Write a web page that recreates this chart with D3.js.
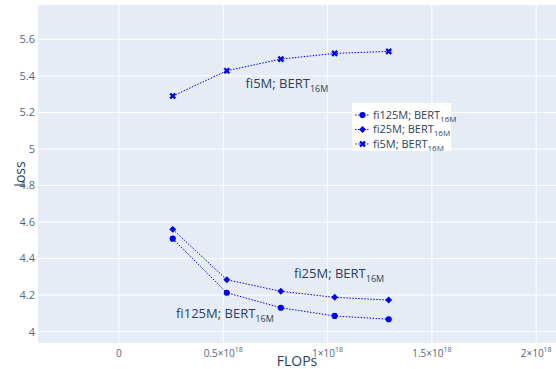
<!DOCTYPE html>
<html>
<head>
<meta charset="utf-8">
<script src="https://cdn.jsdelivr.net/npm/d3@7"></script>
<style>
  body { margin: 0; background: #fff; }
  svg { display: block; font-family: "Open Sans", "Noto Sans", sans-serif; }
</style>
</head>
<body>
<div id="chart"></div>
<script>
// FLOPs (x) and loss per series
const flops = [0.258e18, 0.517e18, 0.776e18, 1.034e18, 1.293e18];
const loss125M = [4.509, 4.213, 4.131, 4.086, 4.068];
const loss25M = [4.560, 4.284, 4.221, 4.188, 4.173];
const loss5M = [5.290, 5.428, 5.492, 5.523, 5.534];

const seriesNames = ["fi125M", "fi25M", "fi5M"];
const xTicks = [0, 0.5e18, 1e18, 1.5e18, 2e18];
const xTickLabels = [["0", ""], ["0.5×10", "18"], ["1×10", "18"], ["1.5×10", "18"], ["2×10", "18"]];
const yTicks = [4, 4.2, 4.4, 4.6, 4.8, 5, 5.2, 5.4, 5.6];

const W = 556, H = 369;
const margin = { top: 5, right: 0, bottom: 26, left: 38 };

const svg = d3.select("#chart").append("svg")
    .attr("width", W)
    .attr("height", H);

const x = d3.scaleLinear().domain([-0.388e18, 2.095e18]).range([margin.left, W - margin.right]);
const y = d3.scaleLinear().domain([3.938, 5.788]).range([H - margin.bottom, margin.top]);

const textCol = "#2a3f5f";
const tickCol = "#506784";
const blue = "#0000ff";

// plot background
svg.append("rect")
    .attr("x", margin.left)
    .attr("y", margin.top)
    .attr("width", W - margin.right - margin.left)
    .attr("height", H - margin.bottom - margin.top)
    .attr("fill", "#e5ecf6");

// grid
svg.append("g").selectAll("line").data(xTicks).join("line")
    .attr("x1", d => x(d)).attr("x2", d => x(d))
    .attr("y1", margin.top).attr("y2", H - margin.bottom)
    .attr("stroke", "#fff").attr("stroke-width", 1);
svg.append("g").selectAll("line").data(yTicks).join("line")
    .attr("x1", margin.left).attr("x2", W - margin.right)
    .attr("y1", d => y(d)).attr("y2", d => y(d))
    .attr("stroke", "#fff").attr("stroke-width", 1);

// tick labels
const xl = svg.append("g").selectAll("text").data(xTicks).join("text")
    .attr("x", d => x(d))
    .attr("y", H - margin.bottom + 14)
    .attr("text-anchor", "middle")
    .attr("fill", tickCol)
    .style("font-size", "10px");
xl.each(function(d, i) {
    const t = d3.select(this);
    t.append("tspan").text(xTickLabels[i][0]);
    if (xTickLabels[i][1]) {
        t.append("tspan").attr("dy", -5).style("font-size", "7px").text(xTickLabels[i][1]);
    }
});

svg.append("g").selectAll("text").data(yTicks).join("text")
    .attr("x", margin.left - 3)
    .attr("y", d => y(d))
    .attr("dy", "0.35em")
    .attr("text-anchor", "end")
    .attr("fill", tickCol)
    .style("font-size", "11px")
    .text(d => d3.format("")(+d.toFixed(1)));

// axis titles
svg.append("text")
    .attr("x", (margin.left + W - margin.right) / 2)
    .attr("y", H - 3)
    .attr("text-anchor", "middle")
    .attr("fill", textCol)
    .style("font-size", "14px")
    .text("FLOPs");
svg.append("text")
    .attr("transform", `translate(25,${(margin.top + H - margin.bottom) / 2}) rotate(-90)`)
    .attr("text-anchor", "middle")
    .attr("fill", textCol)
    .style("font-size", "14px")
    .text("loss");

// series
const series = [
    { name: seriesNames[0], values: loss125M, symbol: d3.symbolCircle, size: 30, rot: 0 },
    { name: seriesNames[1], values: loss25M, symbol: d3.symbolSquare, size: 24, rot: 45 },
    { name: seriesNames[2], values: loss5M, symbol: d3.symbolCross, size: 28, rot: 45 }
];

const line = d3.line().x(d => x(d[0])).y(d => y(d[1]));

series.forEach(s => {
    const pts = flops.map((f, i) => [f, s.values[i]]);
    svg.append("path")
        .attr("d", line(pts))
        .attr("fill", "none")
        .attr("stroke", blue)
        .attr("stroke-width", 1)
        .attr("stroke-dasharray", "1.5,1.5");
    svg.append("g").selectAll("path").data(pts).join("path")
        .attr("transform", d => `translate(${x(d[0])},${y(d[1])}) rotate(${s.rot})`)
        .attr("d", d3.symbol(s.symbol, s.size))
        .attr("fill", blue);
});

// annotations
const annotations = [
    { label: "fi5M", fx: 0.805e18, fy: 5.361 },
    { label: "fi25M", fx: 1.055e18, fy: 4.321 },
    { label: "fi125M", fx: 0.508e18, fy: 4.100 }
];
annotations.forEach(a => {
    const t = svg.append("text")
        .attr("x", x(a.fx))
        .attr("y", y(a.fy))
        .attr("dy", "0.35em")
        .attr("text-anchor", "middle")
        .attr("fill", textCol)
        .style("font-size", "13px");
    t.append("tspan").text(a.label + "; BERT");
    t.append("tspan").attr("dy", 4).style("font-size", "9px").text("16M");
});

// legend
const lg = svg.append("g").attr("transform", "translate(352,103)");
lg.append("rect")
    .attr("width", 99).attr("height", 48)
    .attr("fill", "#fff");
series.forEach((s, i) => {
    const row = lg.append("g").attr("transform", `translate(0,${12 + i * 14.5})`);
    row.append("line")
        .attr("x1", 3).attr("x2", 18)
        .attr("stroke", blue).attr("stroke-width", 1)
        .attr("stroke-dasharray", "1.5,1.5");
    row.append("path")
        .attr("transform", `translate(10.5,0) rotate(${s.rot})`)
        .attr("d", d3.symbol(s.symbol, s.size))
        .attr("fill", blue);
    const t = row.append("text")
        .attr("x", 21)
        .attr("dy", "0.35em")
        .attr("fill", textCol)
        .style("font-size", "11px");
    t.append("tspan").text(s.name + "; BERT");
    t.append("tspan").attr("dy", 3).style("font-size", "8px").text("16M");
});
</script>
</body>
</html>
